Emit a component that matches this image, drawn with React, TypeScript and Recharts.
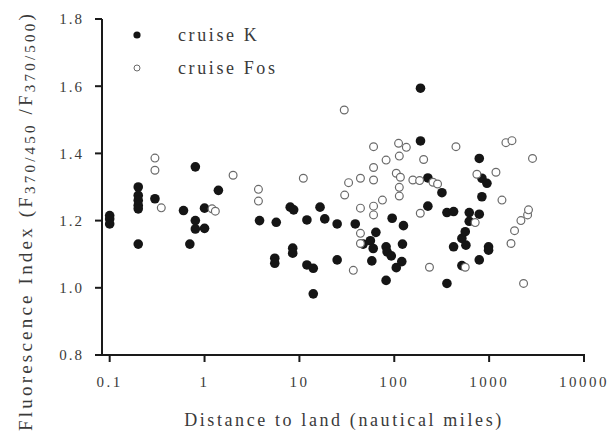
import { ScatterChart, Scatter, XAxis, YAxis, Label } from 'recharts';

// cruise K (filled) — distance to land (nm), fluorescence index
const cruiseKDist = [
  0.1, 0.1, 0.1,
  0.2, 0.2, 0.2, 0.2, 0.2, 0.2,
  0.3, 0.6, 0.7, 0.8, 0.8, 0.8, 1.0, 1.0, 1.4,
  3.8, 5.5, 5.5, 5.7, 8.0, 8.7, 8.5, 8.5, 12, 12, 14, 14, 16.5, 18.5,
  25, 25, 38.8, 47, 56, 60, 64, 58, 82, 84, 93, 82, 95, 125, 122, 120, 105,
  189, 189, 226, 226, 318, 359, 359, 422, 422, 516, 516, 560, 569,
  617, 617, 787, 787, 787, 839, 839, 948, 986, 986,
];
const cruiseKIndex = [
  1.215, 1.205, 1.19,
  1.3, 1.275, 1.26, 1.245, 1.235, 1.13,
  1.265, 1.23, 1.13, 1.36, 1.2, 1.175, 1.237, 1.177, 1.29,
  1.2, 1.088, 1.073, 1.195, 1.24, 1.232, 1.118, 1.103, 1.202, 1.068, 1.058, 0.982, 1.24, 1.205,
  1.19, 1.083, 1.19, 1.13, 1.14, 1.117, 1.165, 1.08, 1.122, 1.107, 1.095, 1.022, 1.207, 1.185, 1.13, 1.078, 1.06,
  1.594, 1.437, 1.327, 1.243, 1.283, 1.224, 1.013, 1.227, 1.122, 1.147, 1.066, 1.167, 1.127,
  1.224, 1.198, 1.219, 1.385, 1.083, 1.271, 1.326, 1.311, 1.122, 1.112,
];

// cruise Fos (open)
const cruiseFosDist = [
  0.3, 0.3, 0.35, 1.2, 1.3, 2.0, 3.7, 3.7, 11,
  29.7, 30, 33, 37, 44, 44, 44, 44,
  60.5, 60.5, 60.5, 60.5, 60.5, 75, 82, 105, 111, 113, 113, 113, 116, 134,
  157, 185, 188, 204, 235, 256, 286, 447, 560, 713, 743,
  1180, 1365, 1503, 1700, 1740, 1853, 2163, 2307, 2543, 2600, 2866,
];
const cruiseFosIndex = [
  1.386, 1.35, 1.238, 1.235, 1.228, 1.335, 1.293, 1.258, 1.326,
  1.529, 1.276, 1.313, 1.052, 1.326, 1.237, 1.162, 1.132,
  1.42, 1.358, 1.321, 1.243, 1.217, 1.261, 1.38, 1.341, 1.43, 1.392, 1.299, 1.273, 1.329, 1.418,
  1.321, 1.319, 1.222, 1.382, 1.061, 1.314, 1.309, 1.42, 1.061, 1.194, 1.338,
  1.344, 1.261, 1.432, 1.132, 1.438, 1.17, 1.2, 1.013, 1.217, 1.232, 1.385,
];

const xTicks = [0.1, 1, 10, 100, 1000, 10000];
const yTicks = [0.8, 1.0, 1.2, 1.4, 1.6, 1.8];

const kData = cruiseKDist.map((x, i) => ({ x, y: cruiseKIndex[i] }));
const fosData = cruiseFosDist.map((x, i) => ({ x, y: cruiseFosIndex[i] }));

const FONT = '"Liberation Serif", "Times New Roman", serif';
const TEXT = '#3a3a3a';
const AXIS = '#1a1a1a';

// chart frame
const W = 613;
const H = 446;
const M = { top: 19, right: 29, left: 42, bottom: 61 };
const Y_W = 60;
const X_H = 30;

const FilledDot = (props: any) => (
  <circle cx={props.cx} cy={props.cy} r={4.8} fill="#151515" />
);
const OpenDot = (props: any) => (
  <circle cx={props.cx} cy={props.cy} r={3.9} fill="#fff" stroke="#6a6a6a" strokeWidth={1.2} />
);

// legend drawn as an overlay so it takes no room from the plot
const LegendBox = () => (
  <svg width={170} height={60} style={{ position: 'absolute', left: 128, top: 26, overflow: 'visible' }}>
    <circle cx={9} cy={9} r={3.6} fill="#151515" />
    <text x={50} y={9} dy="0.35em" fontFamily={FONT} fontSize={18} letterSpacing={2.6} fill={TEXT}>
      cruise K
    </text>
    <circle cx={9} cy={42} r={3} fill="#fff" stroke="#6a6a6a" strokeWidth={1} />
    <text x={50} y={42} dy="0.35em" fontFamily={FONT} fontSize={18} letterSpacing={2.6} fill={TEXT}>
      cruise Fos
    </text>
  </svg>
);

// plain css frame behind the plot, in case the svg axis lines don't show
const PlotFrame = () => (
  <div
    style={{
      position: 'absolute',
      left: M.left + Y_W - 1,
      top: M.top,
      width: W - M.right - (M.left + Y_W),
      height: H - M.bottom - X_H - M.top - 1,
      borderLeft: `2px solid ${AXIS}`,
      borderBottom: `2px solid ${AXIS}`,
      pointerEvents: 'none',
    }}
  />
);

const YTitle = () => (
  <text
    x={25}
    y={221}
    transform="rotate(-90 25 221)"
    textAnchor="middle"
    dominantBaseline="central"
    fontFamily={FONT}
    fontSize={19}
    letterSpacing={3.2}
    fill={TEXT}
  >
    Fluorescence Index (F
    <tspan fontSize={15} dy={5}>370/450</tspan>
    <tspan dy={-5}> /F</tspan>
    <tspan fontSize={15} dy={5}>370/500</tspan>
    <tspan dy={-5}>)</tspan>
  </text>
);

const XTitle = () => (
  <text
    x={344}
    y={420}
    textAnchor="middle"
    dominantBaseline="central"
    fontFamily={FONT}
    fontSize={18}
    letterSpacing={2.6}
    fill={TEXT}
  >
    Distance to land (nautical miles)
  </text>
);

export default function App() {
  return (
    <div style={{ position: 'absolute', left: 0, top: 0, width: W, height: H, background: '#fff' }}>
      <PlotFrame />
      <ScatterChart width={W} height={H} margin={M}>
        <XAxis
          type="number"
          dataKey="x"
          scale="log"
          domain={[0.083, 10000]}
          ticks={xTicks}
          allowDataOverflow
          height={X_H}
          tickSize={7}
          tickMargin={14}
          stroke={AXIS}
          strokeWidth={2}
          axisLine={{ stroke: AXIS, strokeWidth: 2 }}
          tickLine={{ stroke: AXIS, strokeWidth: 2 }}
          tick={{ fontFamily: FONT, fontSize: 15, fill: TEXT, letterSpacing: 2.5 }}
          tickFormatter={(v: number) => String(v)}
        >
          <Label content={() => <XTitle />} />
        </XAxis>
        <YAxis
          type="number"
          dataKey="y"
          domain={[0.8, 1.8]}
          ticks={yTicks}
          width={Y_W}
          tickSize={7}
          tickMargin={11}
          stroke={AXIS}
          strokeWidth={2}
          axisLine={{ stroke: AXIS, strokeWidth: 2 }}
          tickLine={{ stroke: AXIS, strokeWidth: 2 }}
          tick={{ fontFamily: FONT, fontSize: 15, fill: TEXT, letterSpacing: 2 }}
          tickFormatter={(v: number) => v.toFixed(1)}
        >
          <Label content={() => <YTitle />} />
        </YAxis>
        <Scatter name="cruise K" data={kData} shape={FilledDot} isAnimationActive={false} />
        <Scatter name="cruise Fos" data={fosData} shape={OpenDot} isAnimationActive={false} />
      </ScatterChart>
      <LegendBox />
    </div>
  );
}
